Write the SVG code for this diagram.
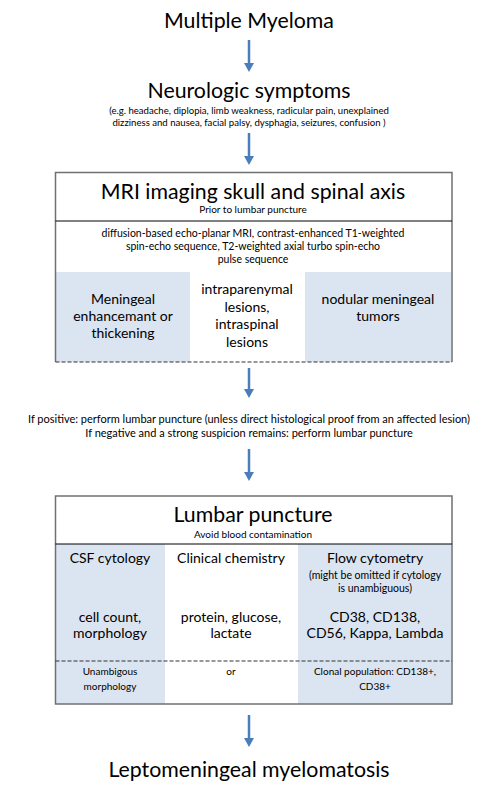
<svg xmlns="http://www.w3.org/2000/svg" width="499" height="795" viewBox="0 0 499 795">
<defs>
<style>
text{font-family:Lato,"Noto Sans",sans-serif;fill:#000;text-anchor:middle}
.t1{font-size:21.3px}
.s{font-size:9.6px}
.d{font-size:10.5px}
.sb{font-size:10px}
.m{font-size:14px}
.mid{font-size:11px}
.cell{fill:#dbe4f1}
.frame{fill:none;stroke:#707070;stroke-width:1.5}
.div{stroke:#000;stroke-width:1}
.dash{stroke:#333;stroke-width:1.2;stroke-dasharray:4 2}
.arr{stroke:#4a7ebb;stroke-width:2.5;fill:none}
.head{fill:#4a7ebb}
</style>
</defs>
<g id="mm"><text class="t1" x="249" y="28">Multiple Myeloma</text></g>
<g id="neuro">
<text class="t1" x="249" y="98">Neurologic symptoms</text>
<text class="s" x="249" y="114">(e.g. headache, diplopia, limb weakness, radicular pain, unexplained</text>
<text class="s" x="249" y="126">dizziness and nausea, facial palsy, dysphagia, seizures, confusion )</text>
</g>
<g id="mri">
<rect class="cell" x="56" y="272" width="134" height="90"/>
<rect class="cell" x="305" y="272" width="146" height="90"/>
<path class="frame" d="M55.5,362 V172.5 H452 V362"/>
<line class="div" x1="55.5" y1="221" x2="452" y2="221"/>
<line class="dash" x1="55.5" y1="362" x2="452" y2="362"/>
<text class="t1" x="253" y="199">MRI imaging skull and spinal axis</text>
<text class="sb" x="253" y="213">Prior to lumbar puncture</text>
<text class="d" x="253" y="237">diffusion-based echo-planar MRI, contrast-enhanced T1-weighted</text>
<text class="d" x="253" y="250">spin-echo sequence, T2-weighted axial turbo spin-echo</text>
<text class="d" x="253" y="263">pulse sequence</text>
<text class="m" x="123" y="304">Meningeal</text>
<text class="m" x="123" y="321">enhancemant or</text>
<text class="m" x="123" y="338">thickening</text>
<text class="m" x="247" y="294">intraparenymal</text>
<text class="m" x="247" y="311.5">lesions,</text>
<text class="m" x="247" y="329">intraspinal</text>
<text class="m" x="247" y="346.5">lesions</text>
<text class="m" x="378" y="304">nodular meningeal</text>
<text class="m" x="378" y="321">tumors</text>
</g>
<g id="decision">
<text class="mid" x="249" y="423">If positive: perform lumbar puncture (unless direct histological proof from an affected lesion)</text>
<text class="mid" x="249" y="437">If negative and a strong suspicion remains: perform lumbar puncture</text>
</g>
<g id="lp">
<rect class="cell" x="56" y="544" width="109" height="160"/>
<rect class="cell" x="298" y="544" width="153" height="160"/>
<rect class="frame" x="55.5" y="496" width="396.5" height="208"/>
<line class="div" x1="55.5" y1="544" x2="452" y2="544"/>
<line class="dash" x1="55.5" y1="661" x2="452" y2="661"/>
<text class="t1" x="253" y="522">Lumbar puncture</text>
<text class="sb" x="253" y="538">Avoid blood contamination</text>
<text class="m" x="110" y="563">CSF cytology</text>
<text class="m" x="231" y="563">Clinical chemistry</text>
<text class="m" x="375" y="563">Flow cytometry</text>
<text class="d" x="375" y="579">(might be omitted if cytology</text>
<text class="d" x="375" y="592">is unambiguous)</text>
<text class="m" x="110" y="622">cell count,</text>
<text class="m" x="110" y="638">morphology</text>
<text class="m" x="231" y="622">protein, glucose,</text>
<text class="m" x="231" y="638">lactate</text>
<text class="m" x="375" y="622">CD38, CD138,</text>
<text class="m" x="375" y="638">CD56, Kappa, Lambda</text>
<text class="sb" x="110" y="675">Unambigous</text>
<text class="sb" x="110" y="690">morphology</text>
<text class="sb" x="231" y="675">or</text>
<text class="sb" x="375" y="675">Clonal population: CD138+,</text>
<text class="sb" x="375" y="690">CD38+</text>
</g>
<g id="lm"><text class="t1" x="249" y="777">Leptomeningeal myelomatosis</text></g>
<g id="connectors">
<line class="arr" x1="249" y1="40" x2="249" y2="64"/><polygon class="head" points="244,63 254,63 249,72"/>
<line class="arr" x1="249" y1="133" x2="249" y2="157"/><polygon class="head" points="244,156 254,156 249,165"/>
<line class="arr" x1="249" y1="368" x2="249" y2="390"/><polygon class="head" points="244,389 254,389 249,398"/>
<line class="arr" x1="249" y1="449" x2="249" y2="473"/><polygon class="head" points="244,472 254,472 249,481"/>
<line class="arr" x1="249" y1="715" x2="249" y2="739"/><polygon class="head" points="244,738 254,738 249,747"/>
</g>
</svg>
